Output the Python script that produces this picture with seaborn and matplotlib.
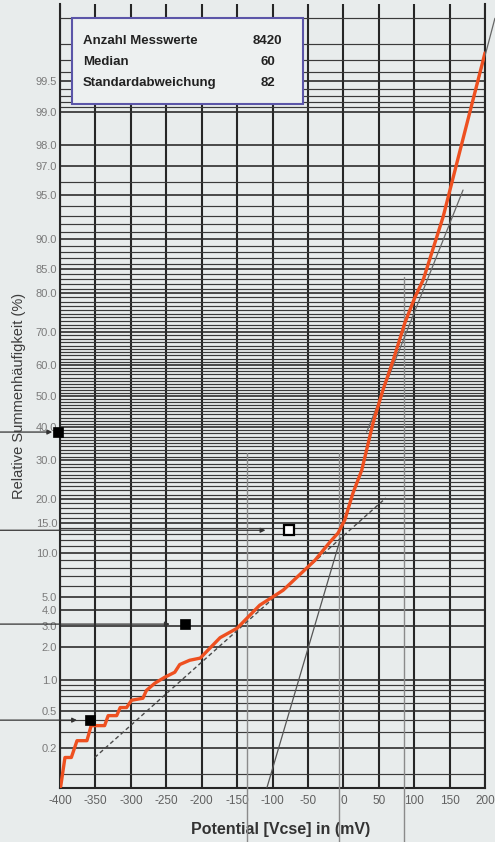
import numpy as np
import matplotlib
matplotlib.use("Agg")
import matplotlib.pyplot as plt
import seaborn as sns
from matplotlib.ticker import FixedLocator, FixedFormatter, NullFormatter
from statistics import NormalDist

# ----------------------------------------------------------
# Daten
# ----------------------------------------------------------
# Summenkurve der Messwerte
pot_mv = [-399, -393, -384, -376, -362, -356, -337, -332, -320, -315, -306,
          -299, -283, -278, -266, -252, -238, -231, -217, -202, -174, -150,
          -118, -85, -40, -19, -7.5, 2, 13.5, 26, 42, 56, 70.5, 87, 101, 113,
          141, 165, 200]
cum_pct = [0.07, 0.155, 0.155, 0.24, 0.24, 0.35, 0.35, 0.446, 0.446, 0.54,
           0.54, 0.64, 0.67, 0.80, 0.94, 1.07, 1.19, 1.4, 1.53, 1.6, 2.4,
           2.87, 4.35, 5.6, 8.95, 11.6, 13.1, 15.5, 21.3, 27.2, 41.3, 52.0,
           61.6, 72.6, 79.0, 83.0, 92.9, 97.8, 99.75]

# Ausgleichsgeraden
fit_lower_mv = [-351, 60]
fit_lower_pct = [0.155, 20.2]
fit_mid_mv = [-108, -4]
fit_mid_pct = [0.067, 12.2]
fit_upper_mv = [33, 169]
fit_upper_pct = [38.4, 95.4]
fit_top_mv = [165, 214]
fit_top_pct = [97.8, 99.9]

# senkrechte Hilfslinien
vline_mv = [-136, -6, 86]
vline_top_pct = [32.0, 32.0, 83.5]

# Markierungen mit Pfeilen
marker_mv = [-403, -77, -223, -358]
marker_pct = [38.4, 13.6, 3.1, 0.40]
marker_hollow = [False, True, False, False]
arrow_tip_mv = [-411, -110, -245, -376]

# Statistik
stat_labels = ["Anzahl Messwerte", "Median", "Standardabweichung"]
stat_values = ["8420", "60", "82"]

# Achsen
x_ticks = list(range(-400, 201, 50))
y_ticks = [0.2, 0.5, 1, 2, 3, 4, 5, 10, 15, 20, 30, 40, 50, 60, 70, 80, 85,
           90, 95, 97, 98, 99, 99.5]
y_grid = ([round(0.1 * i, 1) for i in range(1, 10)] + list(range(1, 100))
          + [round(99 + 0.1 * i, 1) for i in range(1, 10)])

# ----------------------------------------------------------
# Wahrscheinlichkeitsskala
# ----------------------------------------------------------
_nd = NormalDist()


def _inv(v):
    if not np.isfinite(v):
        return np.nan
    return _nd.inv_cdf(min(max(v / 100.0, 1e-9), 1 - 1e-9))


def _cdf(z):
    if not np.isfinite(z):
        return np.nan
    return _nd.cdf(z) * 100.0


pct_to_z = np.vectorize(_inv, otypes=[float])
z_to_pct = np.vectorize(_cdf, otypes=[float])

# ----------------------------------------------------------
# Stil
# ----------------------------------------------------------
BG = "#e8ecec"
sns.set_theme(style="white")
plt.rcParams["font.family"] = ["Liberation Sans", "DejaVu Sans"]

fig = plt.figure(figsize=(4.95, 8.42), dpi=100, facecolor=BG)
ax = fig.add_axes([60 / 495, 54 / 842, 425 / 495, 784 / 842])
ax.set_facecolor(BG)

ax.set_yscale("function", functions=(pct_to_z, z_to_pct))
ax.set_xlim(-400, 200)
ax.set_ylim(0.067, 99.933)

ax.yaxis.set_major_locator(FixedLocator(y_ticks))
ax.yaxis.set_major_formatter(FixedFormatter([f"{v:.1f}" for v in y_ticks]))
ax.yaxis.set_minor_locator(FixedLocator(y_grid))
ax.yaxis.set_minor_formatter(NullFormatter())
ax.xaxis.set_major_locator(FixedLocator(x_ticks))
ax.xaxis.set_major_formatter(FixedFormatter([str(v) for v in x_ticks]))

ax.grid(which="minor", axis="y", color="#3a3a3a", lw=0.85)
ax.grid(which="major", axis="y", color="#2e2e2e", lw=1.2)
ax.grid(which="major", axis="x", color="#262626", lw=1.5)
ax.set_axisbelow(True)
ax.tick_params(axis="both", which="both", length=0)
ax.tick_params(axis="y", labelsize=8, labelcolor="#7a7a7a", pad=2)
ax.tick_params(axis="x", labelsize=8.5, labelcolor="#606060", pad=5)

ax.spines["top"].set_visible(False)
for side in ["left", "right", "bottom"]:
    ax.spines[side].set_color("#262626")
    ax.spines[side].set_linewidth(1.5)

# ----------------------------------------------------------
# Hilfslinien und Ausgleichsgeraden
# ----------------------------------------------------------
for xv, top in zip(vline_mv, vline_top_pct):
    ax.plot([xv, xv], [0.012, top], color="#8a8a8a", lw=1.0, clip_on=False,
            zorder=3)

ax.plot(fit_lower_mv, fit_lower_pct, color="#4a4a4a", lw=1.0,
        ls=(0, (3, 2)), zorder=3)
ax.plot(fit_mid_mv, fit_mid_pct, color="#555555", lw=0.9, zorder=3)
ax.plot(fit_upper_mv, fit_upper_pct, color="#666666", lw=0.9, zorder=3)
ax.plot(fit_top_mv, fit_top_pct, color="#666666", lw=0.9, zorder=3,
        clip_on=False)

# Summenkurve
sns.lineplot(x=pot_mv, y=cum_pct, sort=False, estimator=None, ax=ax,
             color="#ee5020", lw=2.4, zorder=4)

# Pfeile und Markierungen
for tip, pct in zip(arrow_tip_mv, marker_pct):
    ax.annotate("", xy=(tip, pct), xycoords="data",
                xytext=(0.0, pct), textcoords=("figure fraction", "data"),
                arrowprops=dict(arrowstyle="-|>", color="#333333", lw=0.9,
                                mutation_scale=7, shrinkA=0, shrinkB=0),
                annotation_clip=False, zorder=5)

for xv, pct, hollow in zip(marker_mv, marker_pct, marker_hollow):
    ax.plot(xv, pct, marker="s", ms=7.5 if hollow else 6.5,
            mfc="white" if hollow else "black", mec="black",
            mew=1.6 if hollow else 0.5, clip_on=False, zorder=6)

# ----------------------------------------------------------
# Beschriftung
# ----------------------------------------------------------
ax.set_xlabel("Potential [Vcse] in (mV)", fontsize=11.5, fontweight="bold",
              color="#333333", va="top")
ax.xaxis.set_label_coords(0.518, -0.043)
ax.set_ylabel("Relative Summenhäufigkeit (%)", fontsize=10.5,
              color="#3c3c3c")
ax.yaxis.set_label_coords(-0.08, 0.5)

# Statistik-Kasten
box = plt.Rectangle((0.028, 0.872), 0.544, 0.110, transform=ax.transAxes,
                    facecolor="#edf0f0", edgecolor="#5b55a8", lw=1.5,
                    zorder=7)
ax.add_patch(box)
row_y = [0.9528, 0.926, 0.899]
for lab, val, yy in zip(stat_labels, stat_values, row_y):
    ax.text(0.054, yy, lab, transform=ax.transAxes, fontsize=9.5,
            fontweight="bold", color="#222222", va="center", ha="left",
            zorder=8)
    ax.text(0.489, yy, val, transform=ax.transAxes, fontsize=9.5,
            fontweight="bold", color="#222222", va="center", ha="center",
            zorder=8)

fig.savefig("out.png", dpi=100, facecolor=BG)
